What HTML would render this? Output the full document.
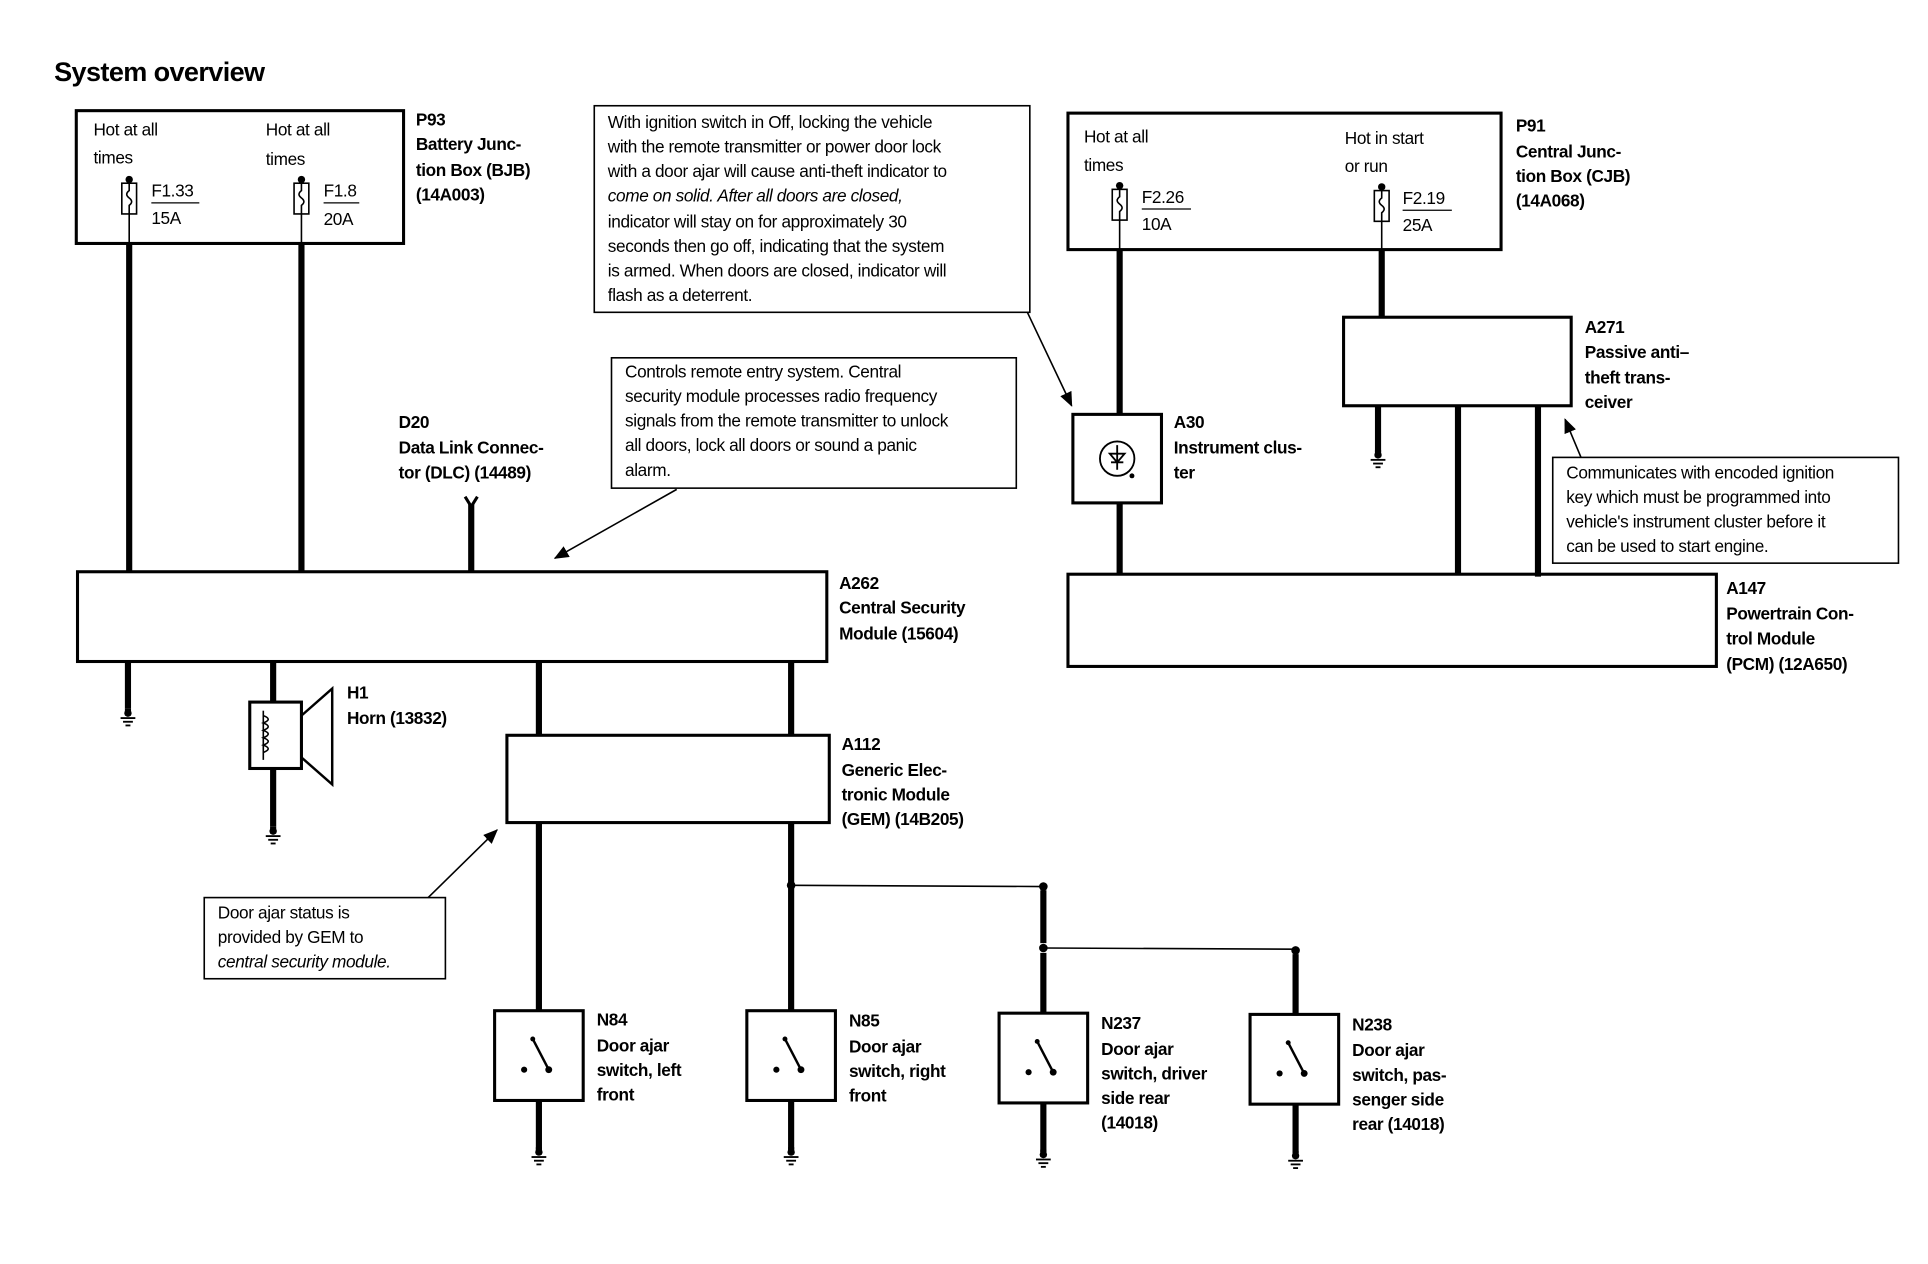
<!DOCTYPE html>
<html><head><meta charset="utf-8"><style>
html,body{margin:0;padding:0;background:#fff;}
svg{display:block;}
text{font-family:"Liberation Sans",sans-serif;fill:#000;}
.t{font-size:14px;letter-spacing:-0.3px;}
.b{font-size:14px;font-weight:bold;letter-spacing:-0.3px;}
</style></head><body>
<svg width="1928" height="1264" viewBox="0 0 1567 1028" preserveAspectRatio="none" xmlns="http://www.w3.org/2000/svg">
<defs>
<g id="gnd"><rect x="-2.5" y="0" width="5" height="6" fill="#000"/><circle cx="0" cy="4" r="3"/><line x1="-6" y1="8" x2="6" y2="8" stroke="#000" stroke-width="1.5"/><line x1="-4" y1="11" x2="4" y2="11" stroke="#000" stroke-width="1.5"/><line x1="-2" y1="14" x2="2" y2="14" stroke="#000" stroke-width="1.5"/></g>
<g id="fuse"><circle cx="0" cy="0" r="3"/><rect x="-6" y="3" width="12" height="25" fill="#fff" stroke="#000" stroke-width="1.3"/><path d="M0 3 v6 q-4 3 0 6 q4 3 0 6 v7" fill="none" stroke="#000" stroke-width="1.3"/></g>
<g id="sw"><circle cx="-12" cy="10" r="2.5"/><circle cx="-5" cy="-15" r="2"/><circle cx="8" cy="10" r="2.8"/><line x1="-5" y1="-15" x2="8" y2="10" stroke="#000" stroke-width="2"/></g>
<marker id="ah" markerWidth="12" markerHeight="10" refX="11" refY="5" orient="auto" markerUnits="userSpaceOnUse"><path d="M0 0 L12 5 L0 10 Z" fill="#000"/></marker>
</defs>
<text x="44" y="66" style="font-size:22px;font-weight:bold;letter-spacing:-0.5px">System overview</text>

<!-- BJB -->
<rect x="62" y="90" width="266" height="108" fill="none" stroke="#000" stroke-width="2.5"/>
<text class="t" x="76" y="110">Hot at all</text><text class="t" x="76" y="133">times</text>
<text class="t" x="216" y="110">Hot at all</text><text class="t" x="216" y="134">times</text>
<use href="#fuse" x="105" y="146"/><use href="#fuse" x="245" y="146"/>
<line x1="105" y1="174" x2="105" y2="198" stroke="#000" stroke-width="1.3"/>
<line x1="245" y1="174" x2="245" y2="198" stroke="#000" stroke-width="1.3"/>
<text class="t" x="123" y="160">F1.33</text><line x1="123" y1="165" x2="162" y2="165" stroke="#000"/><text class="t" x="123" y="182">15A</text>
<text class="t" x="263" y="160">F1.8</text><line x1="263" y1="165" x2="292" y2="165" stroke="#000"/><text class="t" x="263" y="183">20A</text>
<text class="b" x="338" y="102">P93</text><text class="b" x="338" y="122">Battery Junc-</text><text class="b" x="338" y="143">tion Box (BJB)</text><text class="b" x="338" y="163">(14A003)</text>
<g stroke="#000" stroke-width="5">
<line x1="105" y1="198" x2="105" y2="465"/><line x1="245" y1="198" x2="245" y2="465"/>
<line x1="383" y1="410" x2="383" y2="465"/>
</g>
<path d="M378 404 L383 412 L388 404" fill="none" stroke="#000" stroke-width="2.5"/>

<!-- Note 1 -->
<rect x="483" y="86" width="354" height="168" fill="none" stroke="#000" stroke-width="1.3"/>
<text class="t" x="494" y="104">With ignition switch in Off, locking the vehicle</text>
<text class="t" x="494" y="124">with the remote transmitter or power door lock</text>
<text class="t" x="494" y="144">with a door ajar will cause anti-theft indicator to</text>
<text class="t" x="494" y="164"><tspan font-style="italic">come on solid.  After all doors are closed,</tspan></text>
<text class="t" x="494" y="185">indicator will stay on for approximately 30</text>
<text class="t" x="494" y="205">seconds then go off, indicating that the system</text>
<text class="t" x="494" y="225">is armed. When doors are closed, indicator will</text>
<text class="t" x="494" y="245">flash as a deterrent.</text>
<line x1="835" y1="254" x2="871" y2="330" stroke="#000" stroke-width="1.3" marker-end="url(#ah)"/>

<!-- Note 2 -->
<rect x="497" y="291" width="329" height="106" fill="none" stroke="#000" stroke-width="1.3"/>
<text class="t" x="508" y="307">Controls remote entry system. Central</text>
<text class="t" x="508" y="327">security module processes radio frequency</text>
<text class="t" x="508" y="347">signals from the remote transmitter to unlock</text>
<text class="t" x="508" y="367">all doors, lock all doors or sound a panic</text>
<text class="t" x="508" y="387">alarm.</text>
<line x1="550" y1="398" x2="451" y2="454" stroke="#000" stroke-width="1.3" marker-end="url(#ah)"/>

<text class="b" x="324" y="348">D20</text><text class="b" x="324" y="369">Data Link Connec-</text><text class="b" x="324" y="389">tor (DLC) (14489)</text>

<!-- A262 -->
<rect x="63" y="465" width="609" height="73" fill="none" stroke="#000" stroke-width="2.5"/>
<text class="b" x="682" y="479">A262</text><text class="b" x="682" y="499">Central Security</text><text class="b" x="682" y="520">Module (15604)</text>

<g stroke="#000" stroke-width="5">
<line x1="104" y1="538" x2="104" y2="576"/>
<line x1="222" y1="538" x2="222" y2="571"/>
<line x1="222" y1="625" x2="222" y2="672"/>
<line x1="438" y1="538" x2="438" y2="598"/>
<line x1="643" y1="538" x2="643" y2="598"/>
<line x1="438" y1="669" x2="438" y2="822"/>
<line x1="643" y1="669" x2="643" y2="822"/>
<line x1="848" y1="724" x2="848" y2="767"/>
<line x1="848" y1="775" x2="848" y2="824"/>
<line x1="1053" y1="776" x2="1053" y2="826"/>
<line x1="438" y1="895" x2="438" y2="935"/>
<line x1="643" y1="895" x2="643" y2="935"/>
<line x1="848" y1="897" x2="848" y2="937"/>
<line x1="1053" y1="898" x2="1053" y2="938"/>
</g>
<use href="#gnd" x="104" y="576"/><use href="#gnd" x="222" y="672"/>
<use href="#gnd" x="438" y="933"/><use href="#gnd" x="643" y="933"/><use href="#gnd" x="848" y="935"/><use href="#gnd" x="1053" y="936"/>

<!-- Horn -->
<rect x="203" y="571" width="42" height="54" fill="#fff" stroke="#000" stroke-width="2.5"/>
<path d="M245 582 L270 560 L270 638 L245 616" fill="none" stroke="#000" stroke-width="2"/>
<line x1="214" y1="578" x2="214" y2="618" stroke="#000" stroke-width="1.3"/>
<path d="M214 582 q8 3 0 6 q8 3 0 6 q8 3 0 6 q8 3 0 6 q8 3 0 6" fill="none" stroke="#000" stroke-width="1.3"/>
<text class="b" x="282" y="568">H1</text><text class="b" x="282" y="589">Horn (13832)</text>

<!-- GEM -->
<rect x="412" y="598" width="262" height="71" fill="none" stroke="#000" stroke-width="2.5"/>
<text class="b" x="684" y="610">A112</text><text class="b" x="684" y="631">Generic Elec-</text><text class="b" x="684" y="651">tronic Module</text><text class="b" x="684" y="671">(GEM) (14B205)</text>

<!-- splices -->
<circle cx="643" cy="720" r="3.5"/><circle cx="848" cy="721" r="3.5"/><circle cx="848" cy="771" r="3.5"/><circle cx="1053" cy="773" r="3.5"/>
<line x1="643" y1="720" x2="848" y2="721" stroke="#000" stroke-width="1.3"/>
<line x1="848" y1="771" x2="1053" y2="772" stroke="#000" stroke-width="1.3"/>

<!-- Note 3 -->
<rect x="166" y="730" width="196" height="66" fill="none" stroke="#000" stroke-width="1.3"/>
<text class="t" x="177" y="747">Door ajar status is</text>
<text class="t" x="177" y="767">provided by GEM to</text>
<text class="t" x="177" y="787" font-style="italic">central security module.</text>
<line x1="348" y1="730" x2="404" y2="675" stroke="#000" stroke-width="1.3" marker-end="url(#ah)"/>

<!-- switches -->
<g fill="none" stroke="#000" stroke-width="2.5">
<rect x="402" y="822" width="72" height="73"/><rect x="607" y="822" width="72" height="73"/>
<rect x="812" y="824" width="72" height="73"/><rect x="1016" y="825" width="72" height="73"/>
</g>
<use href="#sw" x="438" y="860"/><use href="#sw" x="643" y="860"/><use href="#sw" x="848" y="862"/><use href="#sw" x="1052" y="863"/>
<text class="b" x="485" y="834">N84</text><text class="b" x="485" y="855">Door ajar</text><text class="b" x="485" y="875">switch, left</text><text class="b" x="485" y="895">front</text>
<text class="b" x="690" y="835">N85</text><text class="b" x="690" y="856">Door ajar</text><text class="b" x="690" y="876">switch, right</text><text class="b" x="690" y="896">front</text>
<text class="b" x="895" y="837">N237</text><text class="b" x="895" y="858">Door ajar</text><text class="b" x="895" y="878">switch, driver</text><text class="b" x="895" y="898">side rear</text><text class="b" x="895" y="918">(14018)</text>
<text class="b" x="1099" y="838">N238</text><text class="b" x="1099" y="859">Door ajar</text><text class="b" x="1099" y="879">switch, pas-</text><text class="b" x="1099" y="899">senger side</text><text class="b" x="1099" y="919">rear (14018)</text>

<!-- CJB -->
<rect x="868" y="92" width="352" height="111" fill="none" stroke="#000" stroke-width="2.5"/>
<text class="t" x="881" y="116">Hot at all</text><text class="t" x="881" y="139">times</text>
<text class="t" x="1093" y="117">Hot in start</text><text class="t" x="1093" y="140">or run</text>
<use href="#fuse" x="910" y="151"/><use href="#fuse" x="1123" y="152"/>
<line x1="910" y1="179" x2="910" y2="203" stroke="#000" stroke-width="1.3"/>
<line x1="1123" y1="180" x2="1123" y2="203" stroke="#000" stroke-width="1.3"/>
<text class="t" x="928" y="165">F2.26</text><line x1="928" y1="170" x2="968" y2="170" stroke="#000"/><text class="t" x="928" y="187">10A</text>
<text class="t" x="1140" y="166">F2.19</text><line x1="1140" y1="171" x2="1180" y2="171" stroke="#000"/><text class="t" x="1140" y="188">25A</text>
<text class="b" x="1232" y="107">P91</text><text class="b" x="1232" y="128">Central Junc-</text><text class="b" x="1232" y="148">tion Box (CJB)</text><text class="b" x="1232" y="168">(14A068)</text>
<g stroke="#000" stroke-width="5">
<line x1="910" y1="203" x2="910" y2="337"/><line x1="910" y1="409" x2="910" y2="467"/>
<line x1="1123" y1="203" x2="1123" y2="258"/>
<line x1="1120" y1="330" x2="1120" y2="368"/>
<line x1="1185" y1="330" x2="1185" y2="468"/><line x1="1250" y1="330" x2="1250" y2="469"/>
</g>
<use href="#gnd" x="1120" y="366"/>

<!-- A30 -->
<rect x="872" y="337" width="72" height="72" fill="none" stroke="#000" stroke-width="2.5"/>
<circle cx="908" cy="373" r="14" fill="none" stroke="#000" stroke-width="1.5"/>
<path d="M902 369 L914 369 L908 376 Z M908 362 L908 382 M903 376 L913 376" fill="none" stroke="#000" stroke-width="1.5"/>
<circle cx="920" cy="387" r="2"/>
<text class="b" x="954" y="348">A30</text><text class="b" x="954" y="369">Instrument clus-</text><text class="b" x="954" y="389">ter</text>

<!-- A271 -->
<rect x="1092" y="258" width="185" height="72" fill="none" stroke="#000" stroke-width="2.5"/>
<text class="b" x="1288" y="271">A271</text><text class="b" x="1288" y="291">Passive anti–</text><text class="b" x="1288" y="312">theft trans-</text><text class="b" x="1288" y="332">ceiver</text>

<!-- Note 4 -->
<rect x="1262" y="372" width="281" height="86" fill="none" stroke="#000" stroke-width="1.3"/>
<text class="t" x="1273" y="389">Communicates with encoded ignition</text>
<text class="t" x="1273" y="409">key which must be programmed into</text>
<text class="t" x="1273" y="429">vehicle's instrument cluster before it</text>
<text class="t" x="1273" y="449">can be used to start engine.</text>
<line x1="1285" y1="372" x2="1272" y2="341" stroke="#000" stroke-width="1.3" marker-end="url(#ah)"/>

<!-- PCM -->
<rect x="868" y="467" width="527" height="75" fill="none" stroke="#000" stroke-width="2.5"/>
<text class="b" x="1403" y="483">A147</text><text class="b" x="1403" y="504">Powertrain Con-</text><text class="b" x="1403" y="524">trol Module</text><text class="b" x="1403" y="545">(PCM) (12A650)</text>
</svg>
</body></html>
